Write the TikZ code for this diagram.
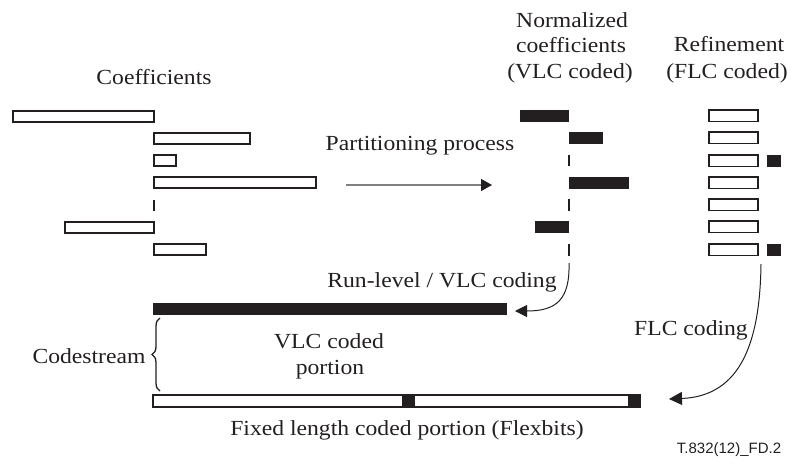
\documentclass[tikz,border=0pt]{standalone}
\usepackage{fontspec}
\setmainfont[FakeStretch=1.1]{Liberation Serif}
\newfontfamily\labelsans{Liberation Sans}
\usetikzlibrary{arrows.meta,decorations.pathreplacing}
\definecolor{ink}{RGB}{35,31,32}
\definecolor{shaft}{RGB}{128,128,128}
\begin{document}
\begin{tikzpicture}[x=1pt,y=-1pt,
  txt/.style={anchor=base, inner sep=0pt, text=ink, font=\fontsize{21.5}{25}\selectfont},
  hollowbar/.style={draw=ink, line width=1.3pt, fill=white},
  solidbar/.style={fill=ink, draw=none},
  tickmark/.style={draw=ink, line width=1.5pt},
  flow/.style={draw=ink, line width=1pt, -{Triangle[length=12pt,width=12pt]}},
]
\useasboundingbox (0,0) rectangle (790,467);

% titles
\node[txt] (tcoef) at (154,84) {Coefficients};
\node[txt] (tnorm1) at (572,27) {Normalized};
\node[txt] (tnorm2) at (571,52) {coefficients};
\node[txt] (tnorm3) at (570,78) {(VLC coded)};
\node[txt] (tref1) at (729,51) {Refinement};
\node[txt] (tref2) at (727,78) {(FLC coded)};
\node[txt] (tpart) at (420,150) {Partitioning process};

% left: coefficients
\draw[hollowbar] (13,111) rectangle (154,122);
\draw[hollowbar] (154,133) rectangle (250,144);
\draw[hollowbar] (154,155) rectangle (176,166);
\draw[hollowbar] (154,177) rectangle (316,188);
\draw[tickmark] (154,200) -- (154,211);
\draw[hollowbar] (65,222) rectangle (154,233);
\draw[hollowbar] (154,244) rectangle (206,255);

% partitioning arrow
\coordinate (pa) at (346,185);
\coordinate (pb) at (492,185);
\draw[shaft, line width=1.5pt, -{Triangle[length=11pt,width=12pt,color=ink]}] (pa) -- (pb);

% middle: normalized coefficients
\fill[ink] (520,110) rectangle (569,122);
\fill[ink] (569,132) rectangle (603,144);
\draw[tickmark] (569,155) -- (569,166);
\fill[ink] (569,177) rectangle (629,189);
\draw[tickmark] (569,199) -- (569,211);
\fill[ink] (535,221) rectangle (569,233);
\draw[tickmark] (569,244) -- (569,256);

% right: refinement
\foreach \yy in {110,132,155,177,199,221,244}
  \draw[hollowbar] (709,\yy) rectangle (758,\yy+11.5);
\fill[ink] (767,155) rectangle (781,167);
\fill[ink] (767,244) rectangle (781,256);

% VLC bar
\fill[ink] (153,303) rectangle (507,315);
\node[txt] (trun) at (442,287) {Run-level / VLC coding};
\coordinate (va) at (569,263);
\coordinate (vb) at (515,311);
\draw[flow] (va) .. controls (570,300) and (556,311) .. (vb);

% FLC bar
\draw[hollowbar] (153,395) rectangle (640,407);
\fill[ink] (402,395) rectangle (415,407);
\fill[ink] (628,395) rectangle (640,407);
\node[txt] (tflc) at (691,335) {FLC coding};
\coordinate (fa) at (761,264);
\coordinate (fb) at (669,399);
\draw[flow, -{Triangle[length=13pt,width=13pt]}] (fa) .. controls (760,340) and (742,396) .. (fb);

% brace and labels
\draw[ink, line width=1.3pt, decorate, decoration={brace, amplitude=8pt}] (160,391) -- (160,318);
\node[txt] (tcode) at (89,363) {Codestream};
\node[txt] (tvlc1) at (329,348) {VLC coded};
\node[txt] (tvlc2) at (330,374) {portion};
\node[txt] (tfix) at (407,435) {Fixed length coded portion (Flexbits)};
\node[anchor=base, inner sep=0pt, text=ink, font=\labelsans\fontsize{15}{18}\selectfont] (tid) at (729,453) {T.832(12)\_FD.2};
\end{tikzpicture}
\end{document}
